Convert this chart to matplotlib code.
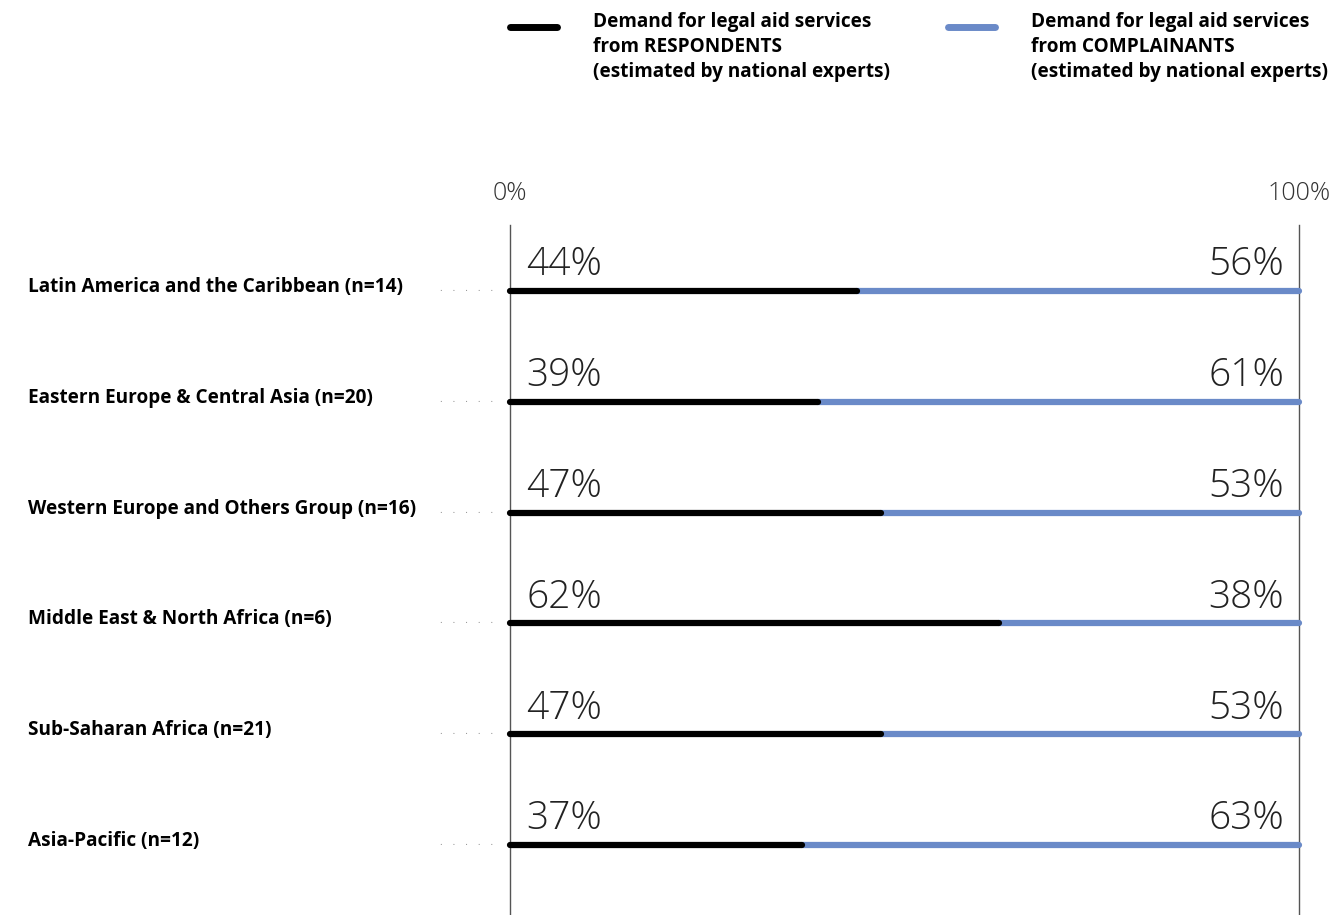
import matplotlib.pyplot as plt

regions = ['Latin America and the Caribbean (n=14)',
           'Eastern Europe & Central Asia (n=20)',
           'Western Europe and Others Group (n=16)',
           'Middle East & North Africa (n=6)',
           'Sub-Saharan Africa (n=21)',
           'Asia-Pacific (n=12)']
respondents = [44, 39, 47, 62, 47, 37]
complainants = [56, 61, 53, 38, 53, 63]

black = '#000000'
blue = '#6a8ac8'

plt.rcParams['font.family'] = ['Open Sans', 'DejaVu Sans']

W, H = 1336, 915
fig = plt.figure(figsize=(W / 100, H / 100), dpi=100)

# axes placed in pixel terms: 0% at x=510, 100% at x=1299
x0, x1 = 510, 1299
top, bottom = 225, 915
ax = fig.add_axes([x0 / W, 1 - bottom / H, (x1 - x0) / W, (bottom - top) / H])
ax.set_xlim(0, 100)
row0, step = 291, 110.8
ax.set_ylim((bottom - row0) / step, (top - row0) / step)
ax.axis('off')
ax.axvline(0, color='#555555', lw=1, clip_on=False)
ax.axvline(100, color='#555555', lw=1, clip_on=False)

for i, (name, r, c) in enumerate(zip(regions, respondents, complainants)):
    ax.plot([r, 100], [i, i], color=blue, lw=4.5, solid_capstyle='round', zorder=3,
            clip_on=False)
    ax.plot([0, r], [i, i], color=black, lw=4.5, solid_capstyle='round', zorder=4,
            clip_on=False)
    ax.text(2.1, i - 0.14, f'{r}%', fontsize=28, fontweight='light', color='#222222',
            ha='left', va='baseline')
    ax.text(98.1, i - 0.14, f'{c}%', fontsize=28, fontweight='light', color='#222222',
            ha='right', va='baseline')
    y = 1 - (row0 + step * i - 4) / H
    fig.text(28 / W, y, name, fontsize=13.7, fontweight='bold', ha='left', va='center')
    fig.text(440 / W, 1 - (row0 + step * i + 3) / H, '.    .    .    .    .', fontsize=7,
             color='#888888', ha='left', va='bottom')

# axis end labels
fig.text(x0 / W, 1 - 193 / H, '0%', fontsize=18, fontweight='light', color='#333333',
         ha='center', va='center')
fig.text(x1 / W, 1 - 193 / H, '100%', fontsize=18, fontweight='light', color='#333333',
         ha='center', va='center')

# legend
leg = [(510, 557, 593, black, 'Demand for legal aid services\nfrom RESPONDENTS\n(estimated by national experts)'),
       (948, 995, 1031, blue, 'Demand for legal aid services\nfrom COMPLAINANTS\n(estimated by national experts)')]
for lx0, lx1, tx, col, txt in leg:
    fig.add_artist(plt.Line2D([lx0 / W, lx1 / W], [1 - 27 / H, 1 - 27 / H], color=col,
                              lw=5, solid_capstyle='round', transform=fig.transFigure))
    fig.text(tx / W, 1 - 12 / H, txt, fontsize=13.7, fontweight='bold', ha='left', va='top',
             linespacing=1.35)

fig.savefig('out.png', dpi=100)
